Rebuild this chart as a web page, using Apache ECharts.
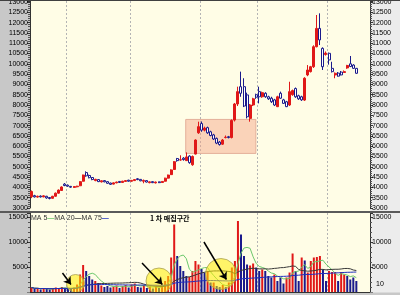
<!DOCTYPE html>
<html><head><meta charset="utf-8">
<script src="https://cdn.jsdelivr.net/npm/echarts@6/dist/echarts.min.js"></script>
<style>html,body{margin:0;padding:0;background:#fffde6}#c{width:400px;height:295px}</style>
</head><body><div id="c"></div>
<script>
// ---------- data ----------
const SLOTS = 112; // trading-day slots on the x axis (last few empty)
const dayLabels = Array.from({length: SLOTS}, (_, i) => 'D' + (i + 1));
// [open, close, low, high]
const ohlc = [
[3550,3800,3480,3850],[3600,3540,3510,3640],[3530,3570,3500,3600],[3580,3540,3510,3610],
[3540,3590,3520,3620],[3570,3490,3450,3590],[3510,3460,3420,3530],[3470,3570,3450,3590],
[3570,3720,3550,3750],[3720,3870,3700,3900],[3850,4020,3830,4050],[4160,4090,4060,4210],
[4110,4060,4030,4140],[4050,4010,3980,4070],[4000,4040,3980,4060],[4030,4060,4000,4080],
[4080,4280,4060,4300],[4300,4600,4280,4620],[4720,4560,4520,4780],[4580,4470,4440,4620],
[4480,4380,4350,4500],[4330,4390,4300,4420],[4380,4280,4260,4400],[4270,4320,4240,4340],
[4330,4270,4250,4350],[4280,4200,4180,4300],[4210,4150,4120,4230],[4160,4220,4140,4240],
[4220,4260,4200,4280],[4290,4240,4220,4300],[4240,4300,4220,4320],[4290,4330,4270,4350],
[4350,4300,4280,4370],[4300,4340,4280,4360],[4330,4380,4310,4400],[4420,4380,4350,4450],
[4390,4320,4300,4400],[4300,4340,4200,4380],[4330,4260,4240,4340],[4230,4270,4200,4290],
[4280,4230,4210,4290],[4220,4260,4190,4280],[4270,4230,4210,4280],[4240,4290,4220,4310],
[4300,4450,4280,4470],[4450,4600,4430,4620],[4620,4850,4600,4880],[4870,5250,4850,5280],
[5400,5300,5250,5430],[5330,5340,5300,5560],[5420,5350,5300,5470],[5300,5480,5280,5700],
[5520,5200,5150,5560],[5100,5500,5050,5550],[5620,6300,5600,6330],[6650,6950,6600,7190],
[7100,6780,6700,7200],[6780,6880,6720,6950],[6900,6650,6600,6950],[6700,6520,6480,6750],
[6550,6350,6300,6600],[6380,6150,6100,6420],[6200,6080,6030,6250],[6100,6300,6060,6350],
[6420,6440,6380,6520],[6460,6420,6380,6500],[6420,7250,6380,7300],[7270,8050,7200,8100],
[8050,8650,7950,8890],[8890,8570,8400,9620],[8890,7950,7900,9300],[8490,7430,7350,8600],
[7350,8000,7190,8050],[8000,8300,7950,8350],[8500,8380,8300,8550],[8650,8400,8080,8890],
[8400,8600,8350,8650],[8570,8400,8350,8620],[8400,8300,8250,8450],[8330,8160,8100,8400],
[8250,8000,7950,8300],[7920,8400,7900,8450],[8570,8330,8300,8650],[8250,8080,8050,8300],
[8160,7920,7900,8200],[8000,8650,7950,9130],[8500,8700,8450,8750],[8800,8400,8350,8850],
[8450,8300,8250,8500],[8400,8250,8200,8450],[8240,9300,8200,9350],[9460,9700,9400,9940],
[9620,9860,9580,9900],[9860,10830,9800,10900],[10830,11720,10800,12370],[11720,11160,10910,12450],
[10750,9860,9700,10800],[10450,10520,10400,10600],[10510,10190,9960,10550],[9780,9620,9580,10100],
[9460,9540,9300,9580],[9550,9400,9380,9600],[9600,9460,9440,9650],[9580,9620,9560,9680],
[9800,9920,9760,9950],[10000,9870,9840,10380],[9940,9780,9760,9980],[9780,9540,9520,9800]
];
const volume = [
900,600,700,500,800,600,500,700,900,800,1000,700,600,
600,900,1500,3500,5400,4200,3200,2500,2200,1800,
1300,1000,1200,900,1100,1300,800,1200,1400,900,
1500,1700,1000,900,1400,800,1200,700,1100,800,1300,
2200,3200,6900,13500,7200,5200,4200,3200,3000,4200,6200,5500,
4600,3900,4200,1900,1900,1200,1000,1400,1000,1900,4900,6200,14200,
11500,7200,5500,5300,5700,
4900,4200,4500,4200,3200,2900,3500,2200,2900,1700,2900,3900,7700,4200,2200,6900,6300,
3900,6200,6900,7000,7200,4500,2200,4200,4000,4000,2200,4000,3500,3200,2500,2900,2200
];
// 1 = red volume bar, 0 = navy volume bar
const volumeUp = [
1,0,1,0,1,0,0,1,1,1,1,0,0,
0,1,1,1,1,0,0,0,1,0,
1,0,0,0,1,1,0,1,1,0,
1,1,0,0,1,0,1,0,1,0,1,
1,1,1,1,0,0,0,0,1,1,1,1,
0,0,1,0,1,0,0,1,0,1,1,1,1,
0,0,0,1,1,
0,0,1,0,0,0,1,0,0,0,1,1,1,0,0,1,0,1,1,1,1,1,0,0,1,1,1,0,1,1,0,0,0,0
];
const monthStarts = [12, 33, 56, 75, 98];
const priceTickLabels = [3000,3500,4000,4500,5000,5500,6000,6500,7000,7500,8000,8500,9000,9500,10000,10500,11000,11500,12000,12500,13000];
const volumeTickLabels = [5000, 10000, 15000];
const maPeriods = [5, 20, 75];
const zoneTitle = '1 차 매집구간';

// ---------- annotations (slot units on a hidden value axis) ----------
const zoneBox = [[51.3, 7300], [74.4, 5650]];
const circleCenters = [[15.0, 1700], [42.5, 2200], [62.9, 3600]];
const circleRadii = [9, 13, 15.5];
const arrowLines = [
  [[10.7, 3800], [13.5, 1500]],
  [[36.9, 5800], [43.6, 1500]],
  [[57.3, 10000], [64.7, 2500]]
];

// ---------- derived ----------
function movingAvg(n) {
  return volume.map((v, i) => {
    const s = Math.max(0, i - n + 1);
    let sum = 0;
    for (let k = s; k <= i; k++) sum += volume[k];
    return Math.round(sum / (i - s + 1));
  });
}
const RED = '#e01818', NAVY = '#1a1a8c', CREAM = '#fffde6';
const maColors = ['#6cc86c', '#383838', '#2030c0'];
const FONT = '"Liberation Sans", Arial, sans-serif';

const chart = echarts.init(document.getElementById('c'), null, {renderer: 'canvas', width: 400, height: 295});

const monthLine = {
  show: true,
  interval: (idx) => monthStarts.includes(idx),
  lineStyle: {color: '#b4b4b4', type: [2, 2], width: 1}
};
function yAxisCommon(gridIndex, pos, min, max, interval, labels) {
  return {
    type: 'value', gridIndex, position: pos, min, max, interval,
    axisLine: {show: true, lineStyle: {color: '#333', width: 1}},
    axisTick: {show: true, length: 3, lineStyle: {color: '#333'}},
    minorTick: {show: true, splitNumber: 5, length: 2, lineStyle: {color: '#555'}},
    splitLine: {show: false},
    axisLabel: {
      fontSize: 7, color: '#000', margin: 2, fontFamily: FONT,
      formatter: (v) => labels.includes(v) ? String(v) : ''
    }
  };
}

// legend as rich text: "MA 5—MA 20—MA 75—"
const legendRich = maPeriods.map((p, k) => 'MA ' + p + '{c' + k + '|—}').join('');
const richStyles = {};
maColors.forEach((c, k) => { richStyles['c' + k] = {fill: c, fontSize: 7, fontFamily: FONT, fontWeight: 'bold'}; });

const staticGraphics = [
  {id: 'lstrip', type: 'rect', shape: {x: 0, y: 0, width: 30, height: 295}, style: {fill: '#c8c8c8'}, z: -1, silent: true},
  {id: 'rstrip', type: 'rect', shape: {x: 370, y: 0, width: 30, height: 295}, style: {fill: '#ececec'}, z: -1, silent: true},
  {id: 'topline', type: 'rect', shape: {x: 0, y: 0, width: 400, height: 1}, style: {fill: '#404040'}, z: 50, silent: true},
  {id: 'sep', type: 'rect', shape: {x: 0, y: 211, width: 400, height: 2}, style: {fill: '#5a5a5a'}, z: 50, silent: true},
  {id: 'bstrip', type: 'rect', shape: {x: 0, y: 292.5, width: 400, height: 3}, style: {fill: '#c8c8c8'}, z: 50, silent: true},
  {id: 'bline', type: 'rect', shape: {x: 30, y: 292, width: 340, height: 1}, style: {fill: '#333'}, z: 51, silent: true},
  {id: 'legend', type: 'text', left: 31, top: 215, z: 50, silent: true,
   style: {text: legendRich, rich: richStyles, fontSize: 7, fill: '#333', fontFamily: FONT}},
  {id: 'zone', type: 'text', left: 150, top: 215, z: 50, silent: true,
   style: {text: zoneTitle, fontSize: 7, fontWeight: 'bold', fill: '#000',
           fontFamily: '"Noto Sans CJK KR", sans-serif'}},
  {id: 'unit', type: 'text', left: 376, top: 281, z: 50, silent: true,
   style: {text: '10', fontSize: 7, fill: '#000', fontFamily: FONT}}
];

const option = {
  animation: false,
  backgroundColor: CREAM,
  grid: [
    {left: 30, right: 30, top: 1, height: 207, outerBoundsMode: 'none'},
    {left: 30, right: 30, top: 213, height: 79, outerBoundsMode: 'none'}
  ],
  xAxis: [
    {type: 'category', gridIndex: 0, data: dayLabels, boundaryGap: true,
     axisLine: {show: false}, axisTick: {show: false}, axisLabel: {show: false}, splitLine: monthLine},
    {type: 'category', gridIndex: 1, data: dayLabels, boundaryGap: true,
     axisLine: {show: true, lineStyle: {color: '#333'}}, axisTick: {show: false}, axisLabel: {show: false}, splitLine: monthLine},
    {type: 'value', gridIndex: 0, min: 0, max: SLOTS, show: false},
    {type: 'value', gridIndex: 1, min: 0, max: SLOTS, show: false}
  ],
  yAxis: [
    yAxisCommon(0, 'left', 3000, 13050, 500, priceTickLabels),
    yAxisCommon(0, 'right', 3000, 13050, 500, priceTickLabels),
    yAxisCommon(1, 'left', 0, 15800, 5000, volumeTickLabels),
    yAxisCommon(1, 'right', 0, 15800, 5000, volumeTickLabels)
  ],
  series: [
    {
      type: 'line', xAxisIndex: 2, yAxisIndex: 0, data: [], z: 1, silent: true,
      markArea: {
        silent: true,
        itemStyle: {color: 'rgba(245,160,130,0.45)', borderColor: '#e4b09a', borderWidth: 1},
        data: [[{coord: zoneBox[0]}, {coord: zoneBox[1]}]]
      }
    },
    {
      type: 'candlestick', xAxisIndex: 0, yAxisIndex: 0, data: ohlc, barWidth: 2.5, z: 3,
      itemStyle: {color: RED, color0: '#ffffff', borderColor: RED, borderColor0: NAVY, borderWidth: 1}
    },
    {
      type: 'bar', xAxisIndex: 1, yAxisIndex: 2, barWidth: 2, z: 2,
      data: volume.map((v, i) => ({value: v, itemStyle: {color: volumeUp[i] ? RED : NAVY}}))
    },
    ...maPeriods.map((p, k) => ({
      type: 'line', name: 'MA ' + p, xAxisIndex: 1, yAxisIndex: 2, data: movingAvg(p),
      showSymbol: false, symbol: 'none', z: 3, color: maColors[k],
      lineStyle: {color: maColors[k], width: 1}
    })),
    {
      type: 'line', xAxisIndex: 3, yAxisIndex: 2, data: [], z: 5, silent: true,
      markLine: {
        silent: true, symbol: ['none', 'arrow'], symbolSize: 7,
        label: {show: false},
        lineStyle: {color: '#000', width: 1.5, type: 'solid'},
        data: arrowLines.map(a => [{coord: a[0]}, {coord: a[1]}])
      }
    }
  ],
  graphic: staticGraphics
};
chart.setOption(option);

// highlight circles placed through the volume panel's axes
const circleGraphics = circleCenters.map((c, i) => {
  const p = chart.convertToPixel({xAxisIndex: 3, yAxisIndex: 2}, c);
  return {
    id: 'hl' + i, type: 'circle', z: 4, silent: true,
    shape: {cx: p[0], cy: p[1], r: circleRadii[i]},
    style: {fill: 'rgba(255,236,0,0.55)', stroke: '#a8a050', lineWidth: 0.8}
  };
});
chart.setOption({graphic: staticGraphics.concat(circleGraphics)});
</script>
</body></html>
